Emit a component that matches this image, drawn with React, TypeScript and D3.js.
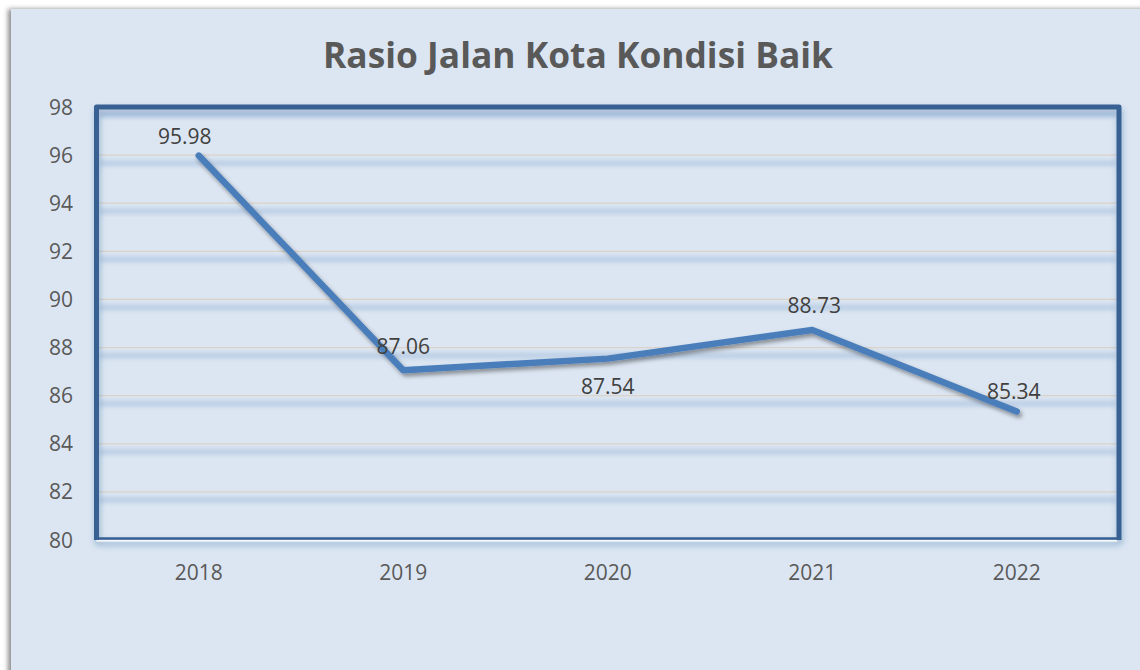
import React from "react";
import * as d3 from "d3";

const years = ["2018", "2019", "2020", "2021", "2022"];
const values = [95.98, 87.06, 87.54, 88.73, 85.34];
const yTicks = [80, 82, 84, 86, 88, 90, 92, 94, 96, 98];
const title = "Rasio Jalan Kota Kondisi Baik";

// label layout offsets (pixels), separate from data
const labelDx = [-14, 0, 0, 2, -3];
const labelDy = [-12, -16, 35, -17, -13];

const W = 1140;
const H = 670;
const L = 96.5, R = 1119, T = 107, B = 540;

export default function App() {
  const x = d3.scaleBand<string>().domain(years).range([L, R]);
  const y = d3.scaleLinear().domain([80, 98]).range([B, T]);
  const line = d3
    .line<number>()
    .x((_, i) => (x(years[i]) as number) + x.bandwidth() / 2)
    .y((d) => y(d));

  return (
    <div style={{ position: "absolute", left: 0, top: 0 }}>
      <svg width={W} height={H} style={{ display: "block" }}>
        <defs>
          <filter id="bgShadow" x="-5%" y="-5%" width="110%" height="110%">
            <feDropShadow dx={-3} dy={0} stdDeviation={2.5} floodColor="#000" floodOpacity={0.45} />
          </filter>
          <filter id="lineShadow" x="-10%" y="-10%" width="120%" height="130%">
            <feDropShadow dx={2} dy={3} stdDeviation={2} floodColor="#000" floodOpacity={0.4} />
          </filter>
          <filter id="frameShadow" x="-5%" y="-5%" width="110%" height="115%">
            <feDropShadow dx={1} dy={4} stdDeviation={3} floodColor="#1f4e8a" floodOpacity={0.35} />
          </filter>
          <filter id="blur3" filterUnits="userSpaceOnUse" x={0} y={0} width={W} height={H}>
            <feGaussianBlur stdDeviation="2" />
          </filter>
        </defs>
        <rect x={0} y={0} width={W} height={H} fill="#ffffff" />
        <rect x={11} y={9} width={W + 20} height={H + 20} fill="#dce6f2" filter="url(#bgShadow)" />

        <text
          x={578}
          y={68}
          textAnchor="middle"
          fontFamily="'Open Sans', sans-serif"
          fontWeight={700}
          fontSize={35}
          fill="#595959"
          textLength={510}
          lengthAdjust="spacingAndGlyphs"
        >
          {title}
        </text>

        {/* gridline shadow bands */}
        <g filter="url(#blur3)">
          {yTicks
            .filter((t) => t !== 80)
            .map((t) => (
              <rect
                key={"band" + t}
                x={L + 3}
                width={R - L - 6}
                y={y(t) + 5}
                height={6}
                fill="#bccfe6"
              />
            ))}
        </g>
        {/* gridlines */}
        {yTicks
          .filter((t) => t !== 80 && t !== 98)
          .map((t) => (
            <line key={"g" + t} x1={L} x2={R} y1={y(t)} y2={y(t)} stroke="#dbd2c8" strokeWidth={1.3} />
          ))}

        {/* plot frame */}
        <g filter="url(#frameShadow)">
          <path
            d={`M${L},${B} L${L},${T} L${R},${T} L${R},${B}`}
            fill="none"
            stroke="#376092"
            strokeWidth={5}
            strokeLinejoin="round"
          />
          <line x1={L - 2} x2={R + 2} y1={B - 1.5} y2={B - 1.5} stroke="#376092" strokeWidth={2.5} />
          <line x1={L} x2={R - 2} y1={B + 0.8} y2={B + 0.8} stroke="#f4f7fb" strokeWidth={1.5} />
        </g>

        {/* y tick labels */}
        {yTicks.map((t) => (
          <text
            key={"yt" + t}
            x={73}
            y={y(t)}
            dy="0.36em"
            textAnchor="end"
            fontFamily="'Open Sans', sans-serif"
            fontSize={21}
            fill="#595959"
          >
            {t}
          </text>
        ))}

        {/* x tick labels */}
        {years.map((yr) => (
          <text
            key={"xt" + yr}
            x={(x(yr) as number) + x.bandwidth() / 2}
            y={580}
            textAnchor="middle"
            fontFamily="'Open Sans', sans-serif"
            fontSize={21}
            fill="#595959"
          >
            {yr}
          </text>
        ))}

        {/* series line */}
        <path
          d={line(values) || ""}
          fill="none"
          stroke="#4a7ebb"
          strokeWidth={6.5}
          strokeLinecap="round"
          strokeLinejoin="round"
          filter="url(#lineShadow)"
        />

        {/* data labels */}
        {values.map((v, i) => (
          <text
            key={"lbl" + i}
            x={(x(years[i]) as number) + x.bandwidth() / 2 + labelDx[i]}
            y={y(v) + labelDy[i]}
            textAnchor="middle"
            fontFamily="'Open Sans', sans-serif"
            fontSize={21}
            fill="#404040"
          >
            {v.toFixed(2)}
          </text>
        ))}
      </svg>
    </div>
  );
}
